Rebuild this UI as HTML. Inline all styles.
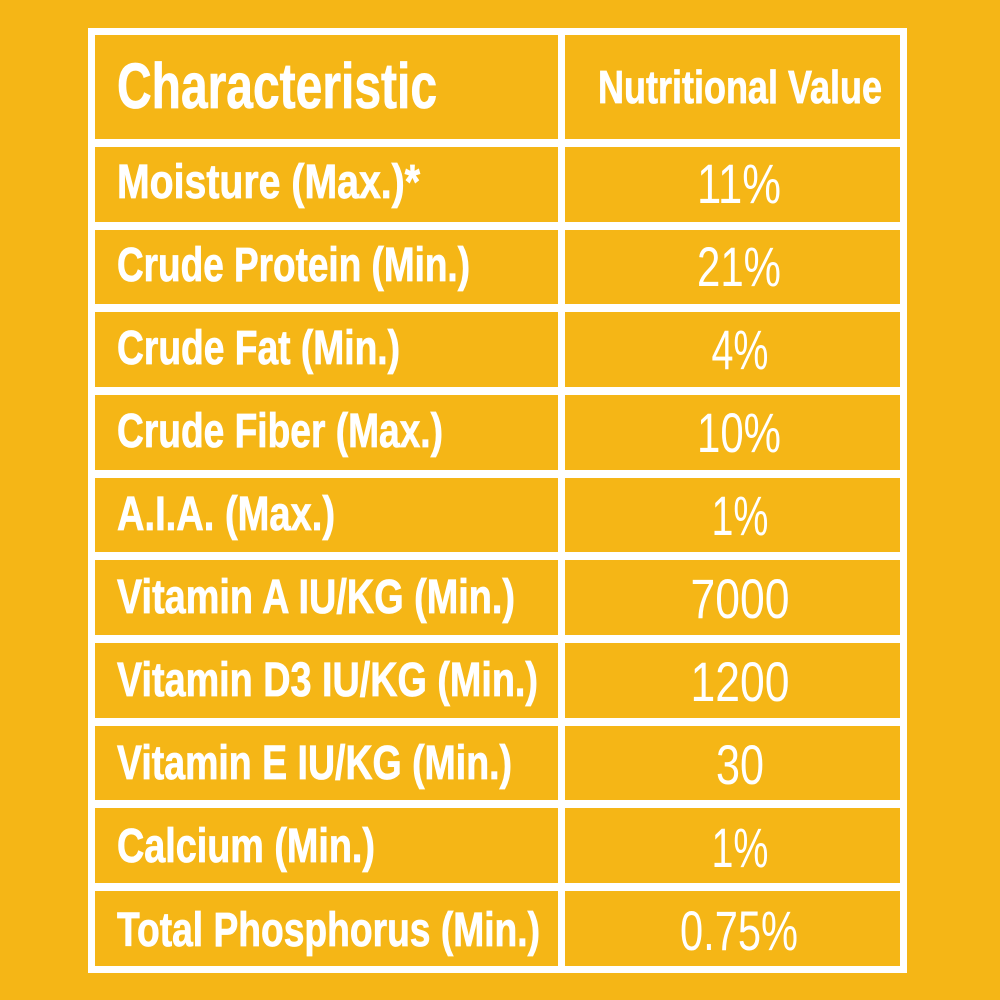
<!DOCTYPE html>
<html><head><meta charset="utf-8"><style>
html,body{margin:0;padding:0;background:#F5B616;}
svg{display:block}
text{font-family:"Liberation Sans",sans-serif;fill:#fff}
.b{font-weight:bold;stroke:#fff;stroke-width:0.8}
</style></head><body>
<svg width="1000" height="1000" viewBox="0 0 1000 1000">
<rect width="1000" height="1000" fill="#F5B616"/>
<rect x="91.5" y="31.5" width="812" height="938" fill="none" stroke="#fff" stroke-width="7"/>
<rect x="558" y="31" width="7" height="938" fill="#fff"/>
<g fill="#fff">
<rect x="88" y="139" width="819" height="8"/>
<rect x="88" y="222" width="819" height="8"/>
<rect x="88" y="304" width="819" height="8"/>
<rect x="88" y="387" width="819" height="8"/>
<rect x="88" y="470" width="819" height="8"/>
<rect x="88" y="552" width="819" height="8"/>
<rect x="88" y="635" width="819" height="8"/>
<rect x="88" y="718" width="819" height="8"/>
<rect x="88" y="800" width="819" height="8"/>
<rect x="88" y="883" width="819" height="8"/>
</g>
<text class="b" x="117" y="108" font-size="64" textLength="320" lengthAdjust="spacingAndGlyphs">Characteristic</text>
<text class="b" x="598" y="103" font-size="46" textLength="284" lengthAdjust="spacingAndGlyphs">Nutritional Value</text>
<g font-size="48">
<text class="b" x="117" y="198" textLength="303" lengthAdjust="spacingAndGlyphs">Moisture (Max.)*</text>
<text class="b" x="117" y="281" textLength="353" lengthAdjust="spacingAndGlyphs">Crude Protein (Min.)</text>
<text class="b" x="117" y="364" textLength="283" lengthAdjust="spacingAndGlyphs">Crude Fat (Min.)</text>
<text class="b" x="117" y="447" textLength="326" lengthAdjust="spacingAndGlyphs">Crude Fiber (Max.)</text>
<text class="b" x="117" y="530" textLength="218" lengthAdjust="spacingAndGlyphs">A.I.A. (Max.)</text>
<text class="b" x="117" y="613" textLength="398" lengthAdjust="spacingAndGlyphs">Vitamin A IU/KG (Min.)</text>
<text class="b" x="117" y="696" textLength="421" lengthAdjust="spacingAndGlyphs">Vitamin D3 IU/KG (Min.)</text>
<text class="b" x="117" y="779" textLength="395" lengthAdjust="spacingAndGlyphs">Vitamin E IU/KG (Min.)</text>
<text class="b" x="117" y="862" textLength="258" lengthAdjust="spacingAndGlyphs">Calcium (Min.)</text>
<text class="b" x="117" y="946" textLength="423" lengthAdjust="spacingAndGlyphs">Total Phosphorus (Min.)</text>
</g>
<g font-size="56" text-anchor="middle">
<text x="739" y="203" textLength="84" lengthAdjust="spacingAndGlyphs">11%</text>
<text x="739" y="286" textLength="84" lengthAdjust="spacingAndGlyphs">21%</text>
<text x="740" y="369" textLength="57" lengthAdjust="spacingAndGlyphs">4%</text>
<text x="739" y="452" textLength="84" lengthAdjust="spacingAndGlyphs">10%</text>
<text x="740" y="535" textLength="57" lengthAdjust="spacingAndGlyphs">1%</text>
<text x="740" y="618" textLength="99" lengthAdjust="spacingAndGlyphs">7000</text>
<text x="740" y="701" textLength="99" lengthAdjust="spacingAndGlyphs">1200</text>
<text x="740" y="784" textLength="48" lengthAdjust="spacingAndGlyphs">30</text>
<text x="740" y="867" textLength="57" lengthAdjust="spacingAndGlyphs">1%</text>
<text x="739" y="950" textLength="118" lengthAdjust="spacingAndGlyphs">0.75%</text>
</g>
</svg>
</body></html>
